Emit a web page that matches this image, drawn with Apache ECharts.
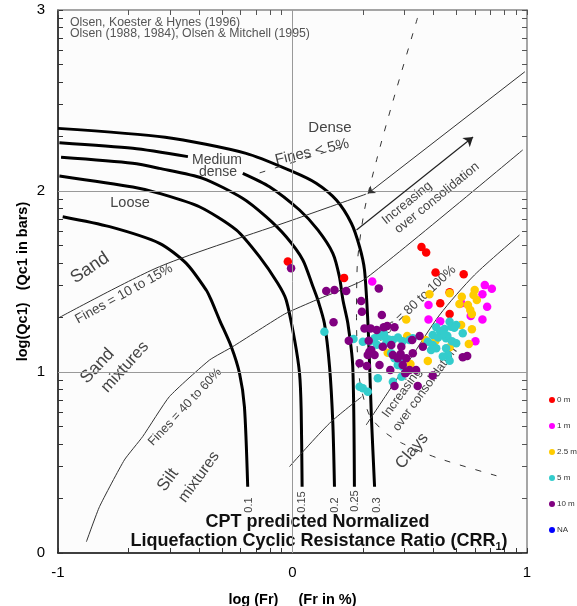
<!DOCTYPE html>
<html lang="en">
<head>
<meta charset="UTF-8">
<title>CPT soil classification chart</title>
<style>
  * { margin: 0; padding: 0; }
  body { background: #fff; }
  #chart { width: 577px; height: 606px; }
</style>
</head>
<body>
<div id="chart"></div>
<script src="https://cdn.jsdelivr.net/npm/echarts@6/dist/echarts.min.js"></script>
<script>
  // log10(2..9): minor ticks inside one decade
  const decadeTicks = [0.301, 0.477, 0.602, 0.699, 0.778, 0.845, 0.903, 0.954];
  const xLabels = [-1, 0, 1];
  const yLabels = [0, 1, 2, 3];
  const gridX = [0];
  const gridY = [1, 2];

  // CRR curves (thick)
  const crr30 = [[-1.0,2.346],[-0.543,2.297],[-0.198,2.208],[0.001,2.107],[0.101,2.043],[0.187,1.950],[0.251,1.822],[0.286,1.692],[0.307,1.564],[0.321,1.287],[0.329,1.029],[0.337,0.735],[0.350,0.366]];
  const crr25a = [[-0.994,2.267],[-0.681,2.236],[-0.446,2.190]];
  const crr25b = [[-0.212,2.098],[-0.098,2.024],[0.030,1.895],[0.108,1.785],[0.172,1.656],[0.200,1.527],[0.215,1.398],[0.236,1.269],[0.257,1.029],[0.264,0.366]];
  const crr20 = [[-0.987,2.186],[-0.682,2.153],[-0.568,2.125],[-0.383,2.070],[-0.213,1.960],[-0.113,1.858],[-0.027,1.747],[0.044,1.619],[0.087,1.472],[0.108,1.398],[0.136,1.269],[0.158,1.029],[0.172,0.716],[0.179,0.366]];
  const crr15 = [[-0.994,2.083],[-0.681,2.022],[-0.568,1.987],[-0.397,1.913],[-0.240,1.785],[-0.141,1.637],[-0.063,1.490],[-0.027,1.398],[0.009,1.177],[0.030,0.992],[0.037,0.790],[0.041,0.366]];
  const crr10 = [[-0.980,1.858],[-0.780,1.803],[-0.567,1.711],[-0.453,1.600],[-0.368,1.453],[-0.347,1.398],[-0.311,1.287],[-0.261,1.140],[-0.226,0.993],[-0.205,0.808],[-0.191,0.366]];

  // thin boundaries
  const fines1015 = [[-1.0,1.297],[-0.567,1.582],[0.001,1.840],[0.314,1.983]];
  const fines4060 = [[-0.879,0.062],[-0.823,0.256],[-0.717,0.514],[-0.639,0.643],[-0.525,0.864],[-0.354,1.066],[-0.255,1.140],[-0.034,1.320],[0.101,1.398],[0.307,1.512],[0.982,2.227]];
  const fines80100 = [[0.314,0.707],[0.414,0.901],[0.499,1.066],[0.627,1.315],[0.776,1.536],[0.968,1.757]];
  const lowerLine = [[-0.013,0.477],[0.158,0.717],[0.294,0.862]];
  const upperLine = [[0.321,1.986],[0.991,2.659]];
  const ocArrow = [[0.273,1.785],[0.770,2.298]];

  // dashed boundaries
  const denseDash = [[0.533,2.956],[0.426,2.486],[0.362,2.188],[0.307,1.895],[0.277,1.608],[0.273,1.287],[0.286,0.956],[0.328,0.762],[0.392,0.669],[0.465,0.608],[0.618,0.525],[0.904,0.414]];
  const fines5Dash = [[-0.14,2.10],[0.25,2.26]];

  // measured points by depth
  const depthNames = ['0 m', '1 m', '2.5 m', '5 m', '10 m', 'NA'];
  const depthColors = ['#ff0000', '#ff00ff', '#ffcc00', '#33cccc', '#800080', '#0000ff'];
  const depth0 = [[-0.02,1.61],[0.22,1.52],[0.55,1.69],[0.57,1.66],[0.61,1.55],[0.73,1.54],[0.67,1.44],[0.63,1.38],[0.67,1.32]];
  const depth1 = [[0.34,1.50],[0.82,1.48],[0.85,1.46],[0.81,1.43],[0.83,1.36],[0.81,1.29],[0.58,1.37],[0.58,1.29],[0.63,1.28],[0.78,1.17],[0.66,1.19],[0.72,1.38],[0.76,1.31]];
  const depth25 = [[0.485,1.29],[0.584,1.43],[0.67,1.435],[0.722,1.416],[0.777,1.453],[0.772,1.425],[0.786,1.398],[0.712,1.376],[0.748,1.37],[0.758,1.343],[0.765,1.32],[0.719,1.26],[0.765,1.236],[0.752,1.155],[0.567,1.177],[0.609,1.171],[0.489,1.199],[0.406,1.107],[0.503,1.044],[0.577,1.061],[0.67,1.137]];
  const depth5 = [[0.136,1.223],[0.26,1.182],[0.30,1.167],[0.35,1.186],[0.371,1.199],[0.392,1.195],[0.428,1.177],[0.499,1.177],[0.513,1.186],[0.613,1.247],[0.648,1.238],[0.67,1.278],[0.677,1.25],[0.698,1.26],[0.598,1.204],[0.577,1.167],[0.598,1.149],[0.591,1.122],[0.613,1.131],[0.655,1.131],[0.662,1.094],[0.641,1.085],[0.67,1.062],[0.698,1.159],[0.726,1.214],[0.655,1.186],[0.30,0.91],[0.321,0.891],[0.286,0.919],[0.364,0.965],[0.428,0.946],[0.435,1.076],[0.421,1.103],[0.47,1.076],[0.47,1.029],[0.449,1.039],[0.465,0.974],[0.629,1.227],[0.66,1.2],[0.69,1.245],[0.64,1.21],[0.621,1.19],[0.68,1.17],[0.39,1.21],[0.41,1.18],[0.33,1.17],[0.36,1.15],[0.40,1.16],[0.45,1.19],[0.47,1.17]];
  const depth10 = [[-0.006,1.573],[0.144,1.448],[0.179,1.453],[0.229,1.448],[0.368,1.462],[0.293,1.392],[0.296,1.333],[0.381,1.315],[0.175,1.275],[0.307,1.241],[0.333,1.241],[0.389,1.247],[0.404,1.254],[0.435,1.247],[0.24,1.173],[0.325,1.173],[0.359,1.232],[0.51,1.177],[0.542,1.199],[0.556,1.14],[0.336,1.122],[0.321,1.094],[0.35,1.094],[0.385,1.14],[0.421,1.149],[0.464,1.14],[0.461,1.099],[0.428,1.094],[0.449,1.076],[0.513,1.103],[0.286,1.048],[0.317,1.033],[0.371,1.039],[0.417,1.011],[0.47,1.039],[0.481,0.993],[0.499,1.011],[0.527,1.011],[0.598,0.98],[0.435,0.923],[0.534,0.923],[0.726,1.081],[0.745,1.088],[0.328,1.112],[0.485,1.076],[0.485,1.002]];
  const depthNA = [];
  const depthData = [depth0, depth1, depth25, depth5, depth10, depthNA];

  const FONT = '"Liberation Sans", Arial, sans-serif';
  const xTicks = [-1].concat(decadeTicks.map(v => v - 1), [0], decadeTicks, [1]);
  const yTicks = [0].concat(decadeTicks, [1], decadeTicks.map(v => v + 1), [2], decadeTicks.map(v => v + 2), [3]);

  const chart = echarts.init(document.getElementById('chart'));

  function curve(data, style, extra) {
    return Object.assign({
      type: 'line', data: data, symbol: 'none', smooth: 0.25, silent: true, z: 2,
      lineStyle: style
    }, extra || {});
  }
  const thick = { color: '#000', width: 3 };
  const thin = { color: '#333', width: 1 };
  const dashed = { color: '#333', width: 1, type: [6, 10] };

  function txt(text, x, y, deg, size, opts) {
    const o = opts || {};
    return {
      type: 'text', x: x, y: y, rotation: (deg || 0) * Math.PI / 180, z: 1, silent: true,
      style: { text: text, fill: o.fill || '#444', font: (o.weight || '') + ' ' + size + 'px ' + FONT,
               align: o.align || 'center', verticalAlign: 'middle' }
    };
  }

  const series = [
    // grid lines at 0 / 1 / 2
    { type: 'line', data: [], silent: true, z: 1,
      markLine: { silent: true, symbol: 'none', animation: false, label: { show: false },
        lineStyle: { color: '#999', width: 1, type: 'solid' },
        data: gridX.map(v => ({ xAxis: v })).concat(gridY.map(v => ({ yAxis: v }))) } },
    curve(crr30, thick), curve(crr25a, thick), curve(crr25b, thick),
    curve(crr20, thick), curve(crr15, thick), curve(crr10, thick),
    curve(fines1015, thin), curve(fines4060, thin, { smooth: 0.15 }),
    curve(fines80100, thin), curve(lowerLine, thin),
    curve(denseDash, dashed), curve(fines5Dash, dashed),
    { type: 'line', data: [], silent: true,
      markLine: { silent: true, symbol: ['arrow', 'none'], symbolSize: 7, animation: false, label: { show: false },
        lineStyle: { color: '#333', width: 1, type: 'solid' },
        data: [[{ coord: upperLine[0] }, { coord: upperLine[1] }]] } },
    { type: 'line', data: [], silent: true,
      markLine: { silent: true, symbol: ['none', 'arrow'], symbolSize: 9, animation: false, label: { show: false },
        lineStyle: { color: '#222', width: 1.2, type: 'solid' },
        data: [[{ coord: ocArrow[0] }, { coord: ocArrow[1] }]] } }
  ];
  depthNames.forEach((name, i) => {
    series.push({
      name: name, type: 'scatter', data: depthData[i], symbolSize: 8.5, z: 4,
      itemStyle: { color: depthColors[i], opacity: 1 }
    });
  });

  chart.setOption({
    animation: false,
    grid: { left: 58, right: 50, top: 10, bottom: 53, show: true, backgroundColor: '#fcfcfc', borderWidth: 0,
            containLabel: false, outerBoundsMode: 'none' },
    legend: {
      data: depthNames, orient: 'vertical', left: 544, top: 391,
      itemWidth: 6, itemHeight: 6, itemGap: 18, icon: 'circle',
      textStyle: { fontSize: 8, color: '#333', fontFamily: FONT, padding: [0, 0, 0, -3] }
    },
    xAxis: [
      { type: 'value', min: -1, max: 1, position: 'bottom',
        axisLine: { show: true, onZero: false, lineStyle: { color: '#000', width: 1.5 } },
        axisTick: { show: true, inside: true, length: 5, customValues: xTicks, lineStyle: { color: '#333' } },
        axisLabel: { customValues: xLabels, fontSize: 15, color: '#000', margin: 12, fontFamily: FONT },
        splitLine: { show: false },
        name: 'log (Fr)     (Fr in %)', nameLocation: 'middle', nameGap: 39, nameMoveOverlap: false,
        nameTextStyle: { fontWeight: 'bold', fontSize: 14.5, color: '#000', fontFamily: FONT } },
      { type: 'value', min: -1, max: 1, position: 'top',
        axisLine: { show: true, onZero: false, lineStyle: { color: '#888', width: 1.5 } },
        axisTick: { show: true, inside: true, length: 5, customValues: xTicks, lineStyle: { color: '#555' } },
        axisLabel: { show: false }, splitLine: { show: false } }
    ],
    yAxis: [
      { type: 'value', min: 0, max: 3, position: 'left',
        axisLine: { show: true, onZero: false, lineStyle: { color: '#000', width: 1.5 } },
        axisTick: { show: true, inside: true, length: 5, customValues: yTicks, lineStyle: { color: '#333' } },
        axisLabel: { customValues: yLabels, fontSize: 15, color: '#000', margin: 13, fontFamily: FONT },
        splitLine: { show: false },
        name: 'log(Qc1)   (Qc1 in bars)', nameLocation: 'middle', nameGap: 28, nameMoveOverlap: false,
        nameTextStyle: { fontWeight: 'bold', fontSize: 14.5, color: '#000', fontFamily: FONT } },
      { type: 'value', min: 0, max: 3, position: 'right',
        axisLine: { show: true, onZero: false, lineStyle: { color: '#888', width: 1.5 } },
        axisTick: { show: true, inside: true, length: 5, customValues: yTicks, lineStyle: { color: '#555' } },
        axisLabel: { show: false }, splitLine: { show: false } }
    ],
    series: series,
    graphic: [
      txt('Olsen, Koester & Hynes (1996)', 70, 22.5, 0, 12.3, { fill: '#555', align: 'left' }),
      txt('Olsen (1988, 1984), Olsen & Mitchell (1995)', 70, 34, 0, 12.3, { fill: '#555', align: 'left' }),
      txt('Dense', 330, 128, 0, 15),
      txt('Fines < 5%', 312, 152, 13, 15),
      txt('Medium', 217, 160, 0, 14),
      txt('dense', 218, 172.5, 0, 14),
      txt('Loose', 130, 203, 0, 14.5),
      txt('Sand', 90, 268, 34, 18),
      txt('Fines = 10 to 15%', 124, 294, 29, 13.5),
      txt('Sand', 97.5, 366, 47, 17.5),
      txt('mixtures', 125, 367, 48, 16.5),
      txt('Fines = 40 to 60%', 185, 407, 47, 12.5),
      txt('Silt', 168, 480, 54, 17),
      txt('mixtures', 199, 477, 54, 15.5),
      txt('Clays', 412, 451, 50, 16.5),
      txt('Increasing', 407, 203, 39, 13),
      txt('over consolidation', 437, 198, 39, 13),
      txt('Fines = 80 to 100%', 413, 306, 43, 13),
      txt('Increasing', 402, 393, 54, 12.5),
      txt('over consolidation', 425, 389, 54, 12.5),
      txt('0.1', 248.5, 505, 90, 11),
      txt('0.15', 301.7, 502, 90, 11),
      txt('0.2', 335, 505, 90, 11),
      txt('0.25', 355, 501, 90, 11),
      txt('0.3', 377, 505, 90, 11),
      txt('CPT predicted Normalized', 317.5, 522, 0, 18, { fill: '#111', weight: 'bold' }),
      { type: 'text', x: 319, y: 541, z: 1, silent: true,
        style: { text: '{b|Liquefaction Cyclic Resistance Ratio (CRR}{s|1}{b|)}', align: 'center', verticalAlign: 'middle',
          rich: { b: { font: 'bold 18px ' + FONT, fill: '#111', lineHeight: 22, verticalAlign: 'middle' },
                  s: { font: 'bold 11px ' + FONT, fill: '#111', lineHeight: 22, verticalAlign: 'bottom' } } } }
    ]
  });
</script>
</body>
</html>
